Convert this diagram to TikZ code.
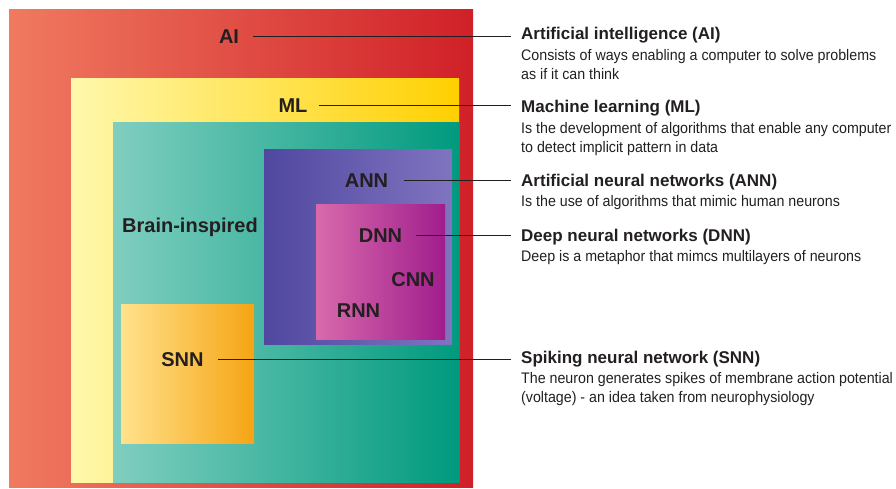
\documentclass[tikz,border=0pt]{standalone}
\usepackage{fontspec}
\setmainfont{Liberation Sans}
\newfontfamily\notefont{Liberation Sans}[FakeStretch=0.93]
\usepackage{xcolor}
\usetikzlibrary{positioning}

% colours of the nested boxes (left, middle, right)
\definecolor{aiL}{RGB}{240,122,96}
\definecolor{aiM}{RGB}{237,28,36}
\definecolor{aiR}{RGB}{208,32,40}
\definecolor{mlL}{RGB}{255,248,172}
\definecolor{mlM}{RGB}{255,236,0}
\definecolor{mlR}{RGB}{255,208,0}
\definecolor{brL}{RGB}{128,206,192}
\definecolor{brM}{RGB}{20,180,164}
\definecolor{brR}{RGB}{0,154,126}
\definecolor{annL}{RGB}{80,72,160}
\definecolor{annM}{RGB}{100,90,172}
\definecolor{annR}{RGB}{128,116,192}
\definecolor{dnnL}{RGB}{216,106,172}
\definecolor{dnnM}{RGB}{205,24,140}
\definecolor{dnnR}{RGB}{160,30,140}
\definecolor{snnL}{RGB}{255,226,140}
\definecolor{snnM}{RGB}{255,190,30}
\definecolor{snnR}{RGB}{246,164,20}
\definecolor{ink}{RGB}{35,31,32}

\tikzset{
	tag/.style={anchor=base, inner sep=0pt, text=ink,
		font=\bfseries\fontsize{20}{24}\selectfont},
	head/.style={anchor=base west, inner sep=0pt, text=ink,
		font=\bfseries\fontsize{17}{20}\selectfont},
	note/.style={inner sep=0pt, align=left, text=ink,
		font=\notefont\fontsize{15.3}{19}\selectfont},
	lead/.style={draw=ink, line width=1.2pt, shorten <=14pt}
}

\begin{document}
\begin{tikzpicture}[x=1pt,y=-1pt]
	\useasboundingbox (0,0) rectangle (896,488);
	% nested boxes
	\shade[left color=aiL, middle color=aiM, right color=aiR] (9,9) rectangle (473,487);
	\shade[left color=mlL, middle color=mlM, right color=mlR] (71,78) rectangle (459,482);
	\shade[left color=brL, middle color=brM, right color=brR] (113,122) rectangle (459,482);
	\shade[left color=annL, middle color=annM, right color=annR] (264,149) rectangle (452,344);
	\shade[left color=dnnL, middle color=dnnM, right color=dnnR] (316,204) rectangle (445,339);
	\shade[left color=snnL, middle color=snnM, right color=snnR] (121,304) rectangle (254,443);

	% labels inside the boxes
	\node[tag] (ai) at (229,43) {AI};
	\node[tag] (ml) at (293,112) {ML};
	\node[tag] (brain) at (190,232) {Brain-inspired};
	\node[tag] (ann) at (366.5,187) {ANN};
	\node[tag] (dnn) at (380.5,242) {DNN};
	\node[tag] (cnn) at (413,286) {CNN};
	\node[tag] (rnn) at (358.5,317) {RNN};
	\node[tag] (snn) at (182.5,366) {SNN};

	% headings and notes on the right
	\node[head] (aiT) at (521,39.5) {Artificial intelligence (AI)};
	\node[note, below=9.5pt of aiT.base west, anchor=north west] (aiD) {Consists of ways enabling a computer to solve problems\\as if it can think};
	\node[head] (mlT) at (521,112.5) {Machine learning (ML)};
	\node[note, below=9.5pt of mlT.base west, anchor=north west] (mlD) {Is the development of algorithms that enable any computer\\to detect implicit pattern in data};
	\node[head] (annT) at (521,186) {Artificial neural networks (ANN)};
	\node[note, below=9pt of annT.base west, anchor=north west] (annD) {Is the use of algorithms that mimic human neurons};
	\node[head] (dnnT) at (521,241.5) {Deep neural networks (DNN)};
	\node[note, below=9pt of dnnT.base west, anchor=north west] (dnnD) {Deep is a metaphor that mimcs multilayers of neurons};
	\node[head] (snnT) at (521,363) {Spiking neural network (SNN)};
	\node[note, below=9.5pt of snnT.base west, anchor=north west] (snnD) {The neuron generates spikes of membrane action potential\\(voltage) - an idea taken from neurophysiology};

	% leader lines
	\draw[lead] (ai.east) -- ([xshift=-10pt]ai.east -| aiT.west);
	\draw[lead,shorten <=11pt] (ml.east) -- ([xshift=-10pt]ml.east -| mlT.west);
	\draw[lead,shorten <=16pt] (ann.east) -- ([xshift=-10pt]ann.east -| annT.west);
	\draw[lead] (dnn.east) -- ([xshift=-10pt]dnn.east -| dnnT.west);
	\draw[lead] (snn.east) -- ([xshift=-10pt]snn.east -| snnT.west);
\end{tikzpicture}
\end{document}
